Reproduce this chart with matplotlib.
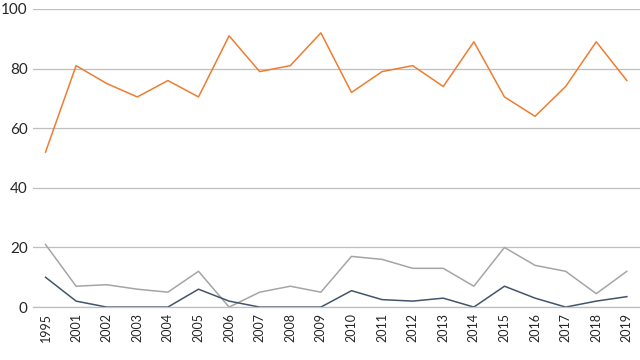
import matplotlib.pyplot as plt
import numpy as np

years = ['1995', '2001', '2002', '2003', '2004', '2005', '2006', '2007', '2008', '2009',
         '2010', '2011', '2012', '2013', '2014', '2015', '2016', '2017', '2018', '2019']
orange = [52, 81, 75, 70.5, 76, 70.5, 91, 79, 81, 92, 72, 79, 81, 74, 89, 70.5, 64, 74, 89, 76]
gray = [21, 7, 7.5, 6, 5, 12, 0, 5, 7, 5, 17, 16, 13, 13, 7, 20, 14, 12, 4.5, 12]
dark = [10, 2, 0, 0, 0, 6, 2, 0, 0, 0, 5.5, 2.5, 2, 3, 0, 7, 3, 0, 2, 3.5]

plt.rcParams['font.family'] = ['Lato', 'DejaVu Sans']

fig = plt.figure(figsize=(6.4, 3.6), dpi=100)
ax = fig.add_axes([0.052, 0.147, 0.948, 0.828])

x = np.arange(len(years))
ax.plot(x, orange, color='#ED7D31', lw=1.1)
ax.plot(x, gray, color='#A5A5A5', lw=1.1)
ax.plot(x, dark, color='#44546A', lw=1.1)

ax.set_ylim(0, 100)
ax.set_yticks([0, 20, 40, 60, 80, 100])
ax.set_xlim(-0.4, 19.43)
ax.set_xticks(x)
ax.set_xticklabels(years, rotation=90, fontsize=9, color='#262626')
ax.tick_params(axis='y', labelsize=11, colors='#262626', length=0, pad=4)
ax.tick_params(axis='x', length=0, pad=4)
ax.grid(axis='y', color='#BFBFBF', lw=0.9)
ax.set_axisbelow(True)
for s in ['top', 'right', 'left']:
    ax.spines[s].set_visible(False)
ax.spines['bottom'].set_color('#BFBFBF')
ax.spines['bottom'].set_linewidth(0.9)

fig.savefig('out.png', dpi=100)
